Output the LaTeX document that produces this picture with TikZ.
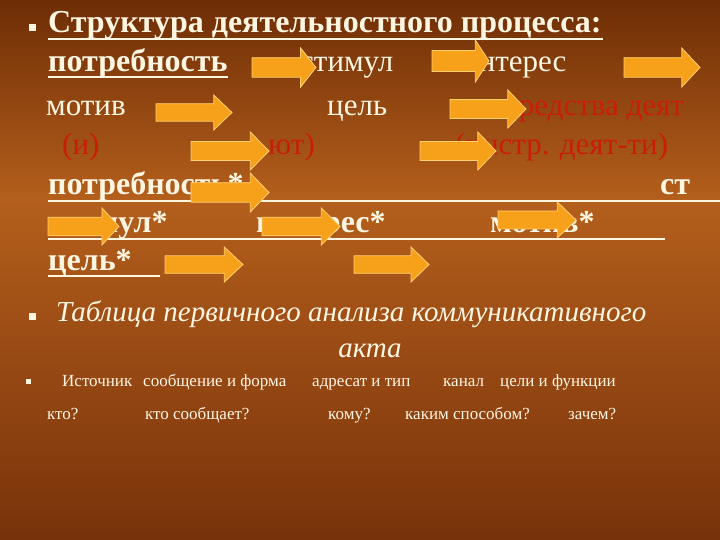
\documentclass[tikz,border=0pt]{standalone}
\usepackage{fontspec}
\setmainfont{Liberation Serif}
\begin{document}
\begin{tikzpicture}[x=1pt,y=-1pt,
  tx/.style={anchor=base west,inner sep=0pt,text=cream,font=\fontsize{31}{33}\selectfont},
  bx/.style={tx,font=\fontsize{32}{34}\selectfont\bfseries},
  rx/.style={tx,text=redt},
  sx/.style={tx,font=\fontsize{17}{19}\selectfont},
  ul/.style={cream,line width=1.8pt},
  bul/.style={fill=cream,minimum size=7pt,inner sep=0pt}]
\definecolor{cream}{HTML}{FFF6E2}
\definecolor{redt}{HTML}{C81E08}
\definecolor{arr}{HTML}{F7A01A}
\definecolor{arre}{HTML}{FFD070}
\useasboundingbox (0,0) rectangle (720,540);
\shade[top color={rgb,255:red,110;green,45;blue,5},bottom color={rgb,255:red,180;green,95;blue,28}] (0,0) rectangle (720,200);
\shade[top color={rgb,255:red,180;green,95;blue,28},bottom color={rgb,255:red,120;green,50;blue,10}] (0,200) rectangle (720,540);
\newcommand{\arrw}[4]{% x1 y1 x2 y2
  \fill[arr,draw=arre,line width=0.8pt] (#1,{#2+(#4-#2)*0.25}) -- ({#3-(#3-#1)*0.24},{#2+(#4-#2)*0.25}) -- ({#3-(#3-#1)*0.24},#2) -- (#3,{(#2+#4)/2}) -- ({#3-(#3-#1)*0.24},#4) -- ({#3-(#3-#1)*0.24},{#4-(#4-#2)*0.25}) -- (#1,{#4-(#4-#2)*0.25}) -- cycle;}
% bullets
\node[bul] (b1) at (32,28) {};
\node[bul] (b2) at (32,316) {};
\node[bul,minimum size=5pt] (b3) at (28,381) {};
% texts
\node[bx] (t0) at (48,33) {Структура деятельностного процесса:};
\draw[ul] (48,39) -- (603,39);
\node[bx] (t1) at (48,72) {потребность};
\draw[ul] (48,77) -- (228,77);
\node[tx] (t2) at (300,72) {стимул};
\node[tx] (t3) at (462,72) {интерес};
\node[tx] (t4) at (46,116) {мотив};
\node[tx] (t5) at (327,116) {цель};
\node[rx] (t6) at (505,116) {средства деят};
\node[rx] (t7) at (62,155) {(и)};
\node[rx] (t8) at (268,155) {ют)};
\node[rx] (t9) at (455,155) {(инстр. деят-ти)};
\node[bx] (t10) at (48,195) {потребность*};
\node[bx] (t11) at (660,195) {ст};
\draw[ul] (48,201) -- (720,201);
\node[bx] (t12) at (48,233) {стимул*};
\node[bx] (t13) at (256,233) {интерес*};
\node[bx] (t14) at (490,233) {мотив*};
\draw[ul] (48,239) -- (665,239);
\node[bx] (t15) at (48,270) {цель*};
\draw[ul] (48,276) -- (160,276);
\node[tx,font=\fontsize{29}{31}\selectfont\itshape] (t16) at (56,321) {Таблица первичного анализа коммуникативного};
\node[tx,font=\fontsize{29}{31}\selectfont\itshape,anchor=base] (t17) at (370,357) {акта};
\node[sx] (s1) at (62,386) {Источник};
\node[sx] (s2) at (143,386) {сообщение и форма};
\node[sx] (s3) at (312,386) {адресат и тип};
\node[sx] (s4) at (443,386) {канал};
\node[sx] (s5) at (500,386) {цели и функции};
\node[sx] (s6) at (47,419) {кто?};
\node[sx] (s7) at (145,419) {кто сообщает?};
\node[sx] (s8) at (328,419) {кому?};
\node[sx] (s9) at (405,419) {каким способом?};
\node[sx] (s10) at (568,419) {зачем?};
% arrows
\arrw{252}{48}{316}{87}
\arrw{432}{40}{489}{82}
\arrw{624}{48}{700}{87}
\arrw{156}{95}{232}{130}
\arrw{450}{90}{526}{128}
\arrw{191}{132}{269}{170}
\arrw{420}{132}{496}{170}
\arrw{191}{173}{269}{212}
\arrw{48}{208}{119}{245}
\arrw{262}{208}{340}{245}
\arrw{498}{202}{576}{238}
\arrw{165}{247}{243}{282}
\arrw{354}{247}{429}{282}
\end{tikzpicture}
\end{document}
